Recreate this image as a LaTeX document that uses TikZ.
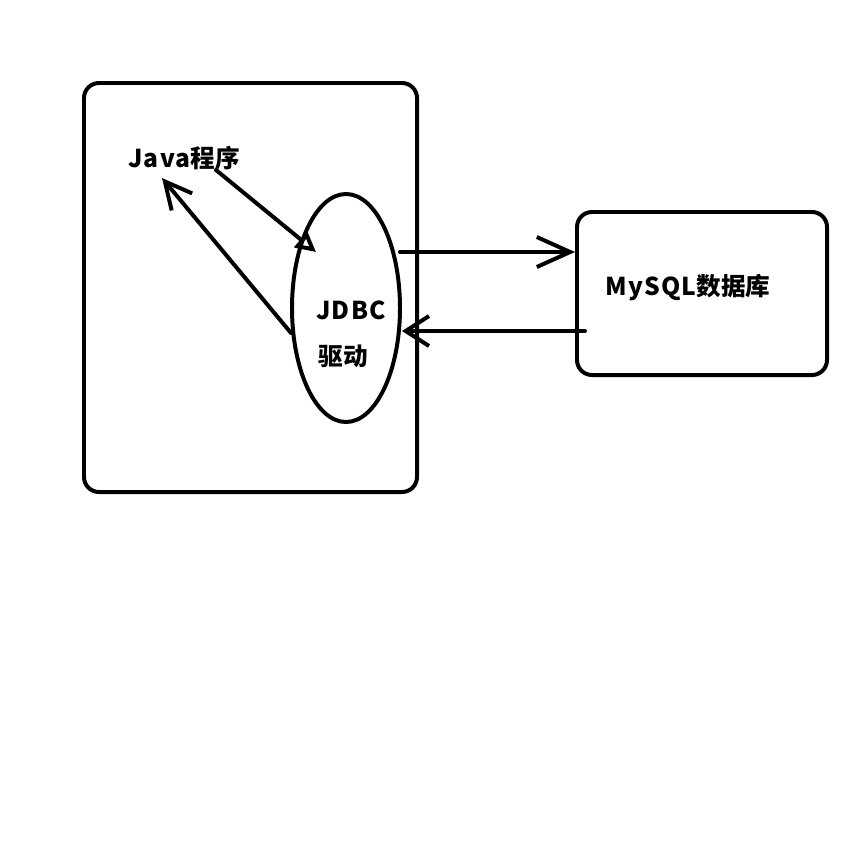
\documentclass[tikz,border=0pt]{standalone}
\usepackage{fontspec}
\setmainfont{Noto Sans CJK SC}
\usetikzlibrary{arrows.meta,shapes.geometric}
\newcommand{\wide}[1]{{\addfontfeature{LetterSpace=5}#1}}

\begin{document}
\begin{tikzpicture}[
  x=0.03cm, y=-0.03cm,
  box/.style={draw, rounded corners=0.45cm, line width=3.4pt},
  lbl/.style={font=\fontsize{21}{24}\selectfont\bfseries, inner sep=0pt},
  arr/.style={-{Straight Barb[length=9mm, width=9mm]}, line width=3.4pt, line cap=round},
  tarr/.style={-{Triangle[open, length=6mm, width=6mm]}, line width=3.4pt, line cap=round},
]
  \useasboundingbox (0,0) rectangle (863,863);

  % Left: program with its driver
  \node[box, minimum width=9.99cm, minimum height=12.27cm] (prog) at (250.5,287.5) {};
  \node[lbl] (java) at (184,158) {\wide{Java}程序};
  \node[draw, ellipse, line width=3.4pt, minimum width=3.24cm, minimum height=6.84cm] (drv) at (346,308) {};
  \node[lbl] (jdbc) at (351,310) {\wide{JDBC}};
  \node[lbl] (qd) at (343,356) {驱动};

  % Right: database
  \node[box, minimum width=7.5cm, minimum height=4.89cm] (db) at (702,293.5) {};
  \node[lbl] (mysql) at (688,288) {\wide{MySQL}数据库};

  % arrows between program and driver
  \coordinate (a1) at (216,170);
  \coordinate (a2) at (316,252);
  \coordinate (b1) at (291,333);
  \coordinate (b2) at (162,178);
  \draw[tarr] (a1) -- (a2);
  \draw[arr, -{Straight Barb[length=8mm, width=8mm]}] (b1) -- (b2);

  % arrows between driver and database
  \coordinate (req) at (400,252);
  \coordinate (res) at (585,331);
  \draw[arr, -{Straight Barb[length=10mm, width=9mm]}] (req) -- (req -| db.west);
  \draw[arr, -{Straight Barb[length=7mm, width=9mm]}] (res) -- (res -| drv.east);
\end{tikzpicture}
\end{document}
